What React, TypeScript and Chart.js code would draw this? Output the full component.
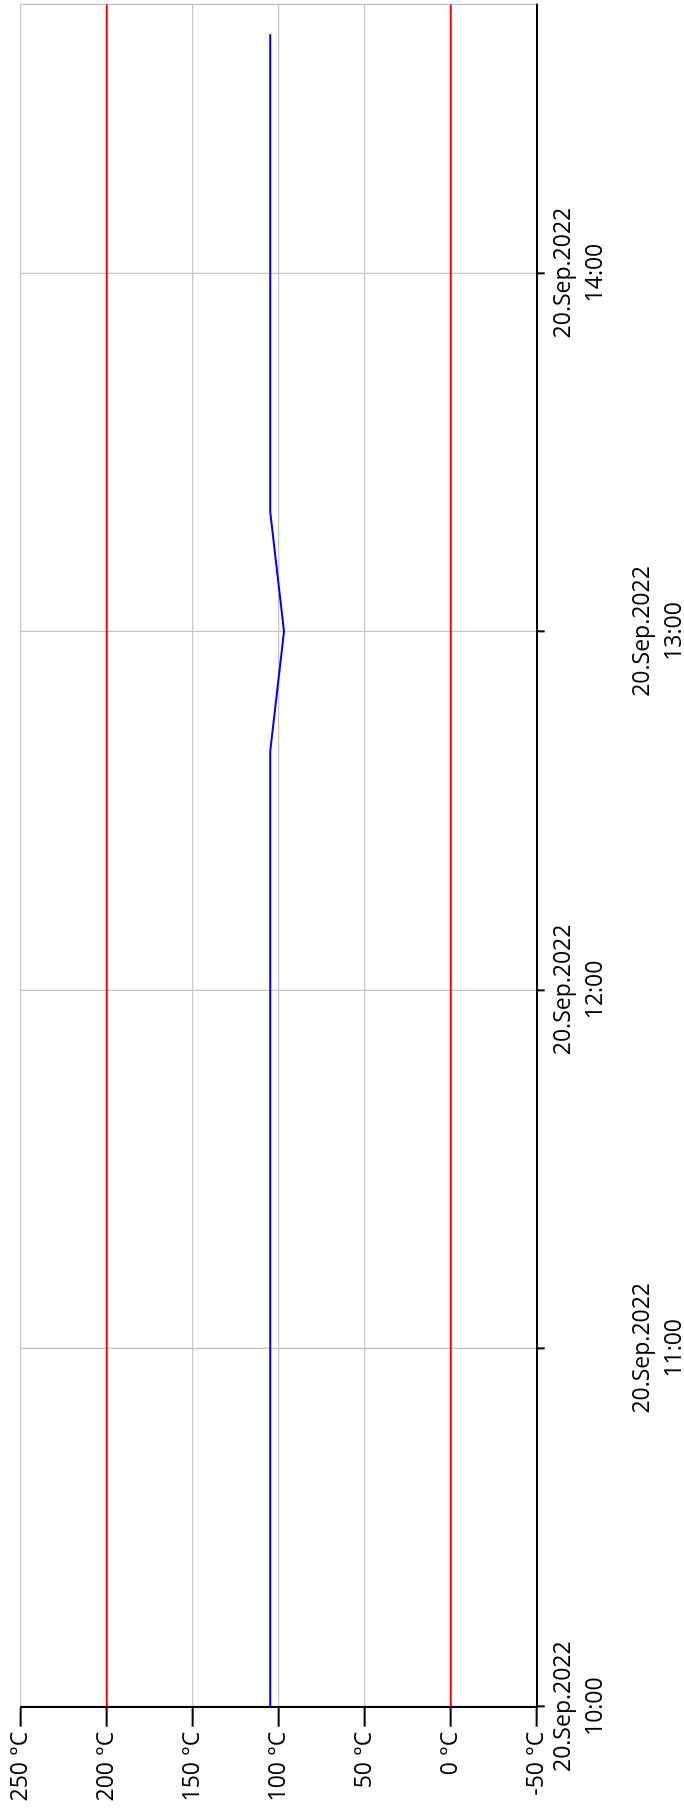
import React, { useEffect, useRef } from "react";
import { Chart, registerables } from "chart.js";

Chart.register(...registerables);

// ---- data ----
const dateLabel = "20.Sep.2022";
const sampleTimes = [
  "10:00", "10:20", "10:40", "11:00", "11:20", "11:40", "12:00", "12:20",
  "12:40", "13:00", "13:20", "13:40", "14:00", "14:20", "14:40",
];
const temperatures = [105, 105, 105, 105, 105, 105, 105, 105, 105, 97, 105, 105, 105, 105, 105];
const upperLimit = 200;
const lowerLimit = 0;
const axisStart = "10:00";
const axisEnd = "14:45";
const timeTicks = ["10:00", "11:00", "12:00", "13:00", "14:00"];
const tempTicks = [-50, 0, 50, 100, 150, 200, 250];
const tempUnit = "°C";

// ---- helpers ----
const toMin = (t: string) => {
  const [h, m] = t.split(":").map(Number);
  return h * 60 + m;
};
const fmt = (v: number) => {
  const h = Math.floor(v / 60);
  const m = Math.round(v - h * 60);
  return `${h}:${m < 10 ? "0" + m : m}`;
};

const W = 1809;
const H = 684;
const FONT = { family: "'Open Sans', sans-serif", size: 23, lineHeight: 1.378 };
const GRID = "#c6c6c6";

export default function App() {
  const ref = useRef<HTMLCanvasElement>(null);

  useEffect(() => {
    const tMin = toMin(axisStart);
    const tMax = toMin(axisEnd);
    const evenTicks = timeTicks.filter((_, i) => i % 2 === 0);
    const oddTicks = timeTicks.filter((_, i) => i % 2 === 1);

    const chart = new Chart(ref.current as HTMLCanvasElement, {
      type: "line",
      data: {
        datasets: [
          {
            label: "upper",
            data: [
              { x: tMin, y: upperLimit },
              { x: tMax, y: upperLimit },
            ],
            borderColor: "#ff0000",
            borderWidth: 2,
            pointRadius: 0,
            xAxisID: "x",
            yAxisID: "y",
          },
          {
            label: "lower",
            data: [
              { x: tMin, y: lowerLimit },
              { x: tMax, y: lowerLimit },
            ],
            borderColor: "#ff0000",
            borderWidth: 2,
            pointRadius: 0,
            xAxisID: "x",
            yAxisID: "y",
          },
          {
            label: "temperature",
            data: sampleTimes.map((t, i) => ({ x: toMin(t), y: temperatures[i] })),
            borderColor: "#0000ff",
            borderWidth: 2,
            pointRadius: 0,
            tension: 0,
            xAxisID: "x",
            yAxisID: "y",
          },
        ],
      },
      options: {
        responsive: false,
        animation: false,
        devicePixelRatio: 1,
        layout: { padding: { top: 20, right: 4.3, left: 0, bottom: 0 } },
        plugins: { legend: { display: false }, tooltip: { enabled: false } },
        scales: {
          x: {
            type: "linear",
            position: "bottom",
            weight: 0,
            min: tMin,
            max: tMax,
            afterBuildTicks: (s: any) => {
              s.ticks = [...timeTicks.map((t) => ({ value: toMin(t) })), { value: tMax }];
            },
            afterFit: (s: any) => {
              s.height = 87;
            },
            ticks: {
              autoSkip: false,
              maxRotation: 0,
              minRotation: 0,
              padding: 3,
              color: "#000",
              font: FONT,
              callback: (v: any) => {
                const t = fmt(Number(v));
                return evenTicks.includes(t) ? [dateLabel, t] : "";
              },
            },
            grid: {
              color: GRID,
              lineWidth: 1.3,
              tickLength: 8,
              tickWidth: 2,
              tickColor: (ctx: any) =>
                ctx.tick && ctx.tick.value === tMax ? "rgba(0,0,0,0)" : "#000",
            },
            border: { color: "#000", width: 2 },
          },
          x2: {
            type: "linear",
            position: "bottom",
            weight: 1,
            min: tMin,
            max: tMax,
            afterBuildTicks: (s: any) => {
              s.ticks = oddTicks.map((t) => ({ value: toMin(t) }));
            },
            afterFit: (s: any) => {
              s.height = H - 536.7 - 87;
            },
            ticks: {
              autoSkip: false,
              maxRotation: 0,
              minRotation: 0,
              padding: 3,
              color: "#000",
              font: FONT,
              callback: (v: any) => [dateLabel, fmt(Number(v))],
            },
            grid: { display: false, drawTicks: false },
            border: { display: false },
          },
          y: {
            type: "linear",
            position: "left",
            min: tempTicks[0],
            max: tempTicks[tempTicks.length - 1],
            afterBuildTicks: (s: any) => {
              s.ticks = tempTicks.map((v) => ({ value: v }));
            },
            afterFit: (s: any) => {
              s.width = 102.3;
            },
            ticks: {
              autoSkip: false,
              padding: 5,
              color: "#000",
              font: FONT,
              callback: (v: any) => `${v} ${tempUnit}`,
            },
            grid: {
              color: GRID,
              lineWidth: 1.3,
              tickLength: 20,
              tickWidth: 2,
              tickColor: "#000",
            },
            border: { color: "#000", width: 2 },
          },
        },
      } as any,
    });
    return () => chart.destroy();
  }, []);

  return (
    <div
      style={{
        position: "absolute",
        left: 0,
        top: 0,
        width: H,
        height: W,
        overflow: "hidden",
        background: "#fff",
      }}
    >
      <div
        style={{
          position: "absolute",
          left: 0,
          top: 0,
          width: W,
          height: H,
          transformOrigin: "0 0",
          transform: `translateY(${W}px) rotate(-90deg)`,
        }}
      >
        <canvas ref={ref} width={W} height={H} style={{ display: "block", width: W, height: H }} />
      </div>
    </div>
  );
}
